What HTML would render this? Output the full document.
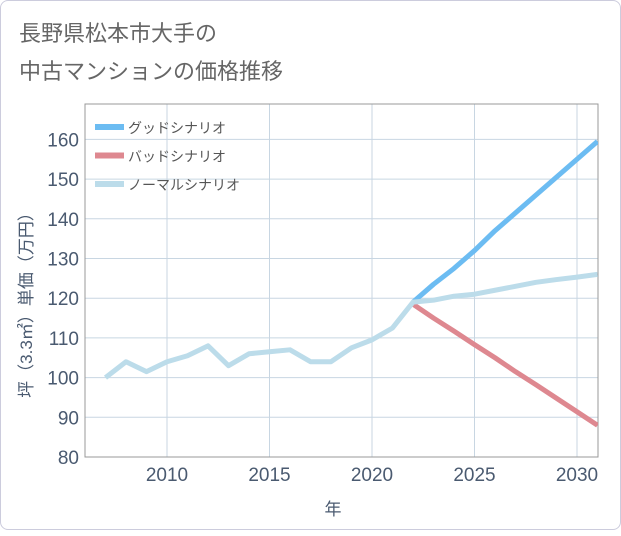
<!DOCTYPE html>
<html><head><meta charset="utf-8"><style>
body{margin:0;background:#fff;}
#card{position:absolute;left:0;top:0;width:619px;height:528px;border:1px solid #ccd;border-radius:8px;background:#fff;}
text{font-family:"Liberation Sans","Noto Sans CJK JP",sans-serif;}
</style></head><body>
<div id="card">
<svg id="chart" width="621" height="530"></svg>
</div>
<script>
const years=[2007,2008,2009,2010,2011,2012,2013,2014,2015,2016,2017,2018,2019,2020,2021,2022,2023,2024,2025,2026,2027,2028,2029,2030,2031];
const normal=[100,104,101.5,104,105.5,108,103,106,106.5,107,104,104,107.5,109.5,112.5,119,119.5,120.5,121,122,123,124,124.7,125.3,126];
const goodYears=[2022,2023,2024,2025,2026,2027,2028,2029,2030,2031];
const good=[119,123.5,127.5,132,137,141.5,146,150.5,155,159.5];
const bad=[118.5,115,111.7,108.3,105,101.5,98.2,94.8,91.4,88];
const yTicks=[80,90,100,110,120,130,140,150,160];
const xTicks=[2010,2015,2020,2025,2030];
const NS="http://www.w3.org/2000/svg";
const svg=document.getElementById('chart');
const L=84,R=597,T=103,B=456;
const x=v=>166+(v-2010)*20.5;
const y=v=>456-(v-80)*3.97;
function mk(t,a,p){const e=document.createElementNS(NS,t);for(const k in a)e.setAttribute(k,a[k]);(p||svg).appendChild(e);return e;}
let t=mk('text',{x:18,y:40,'font-size':22,fill:'#666'});t.textContent='長野県松本市大手の';

t=mk('text',{x:18,y:78,'font-size':22,fill:'#666'});t.textContent='中古マンションの価格推移';

yTicks.forEach(v=>{const l=mk('line',{x1:L,x2:R,y1:y(v),y2:y(v),stroke:'#c8d6e2','stroke-width':1});

const tx=mk('text',{x:L-6,y:y(v)+7,'font-size':19,fill:'#4a5a70','text-anchor':'end'});tx.textContent=v;
});
xTicks.forEach(v=>{const l=mk('line',{x1:x(v),x2:x(v),y1:T,y2:B,stroke:'#c8d6e2','stroke-width':1});

const tx=mk('text',{x:x(v),y:480,'font-size':19,fill:'#4a5a70','text-anchor':'middle'});tx.textContent=v;
});
let fr=mk('rect',{x:L,y:T,width:R-L,height:B-T,fill:'none',stroke:'#999','stroke-width':1});

t=mk('text',{x:332,y:514,'font-size':17,fill:'#4a5a70','text-anchor':'middle'});t.textContent='年';

t=mk('text',{x:0,y:0,'font-size':17,fill:'#4a5a70','text-anchor':'middle',transform:'translate(31,300) rotate(-90)'});t.textContent='坪（3.3㎡）単価（万円）';

const clip=mk('clipPath',{id:'cp'});mk('rect',{x:L,y:T,width:R-L,height:B-T},clip);
function line(xs,ys,col,name){const p=mk('polyline',{points:xs.map((v,i)=>x(v)+','+y(ys[i])).join(' '),fill:'none',stroke:col,'stroke-width':5,'stroke-linejoin':'round','clip-path':'url(#cp)'});
}
line(goodYears,bad,'#de8890','bad-scenario-line');
line(goodYears,good,'#6cbcf2','good-scenario-line');
line(years,normal,'#bcdcea','normal-scenario-line');
[['グッドシナリオ','#6cbcf2'],['バッドシナリオ','#de8890'],['ノーマルシナリオ','#bcdcea']].forEach((d,i)=>{
const g=mk('g',{});
mk('line',{x1:94,x2:123,y1:126+i*28.5,y2:126+i*28.5,stroke:d[1],'stroke-width':6},g);
const tx=mk('text',{x:127,y:132+i*28.5,'font-size':14,fill:'#555'},g);tx.textContent=d[0];});
</script>
</body></html>
